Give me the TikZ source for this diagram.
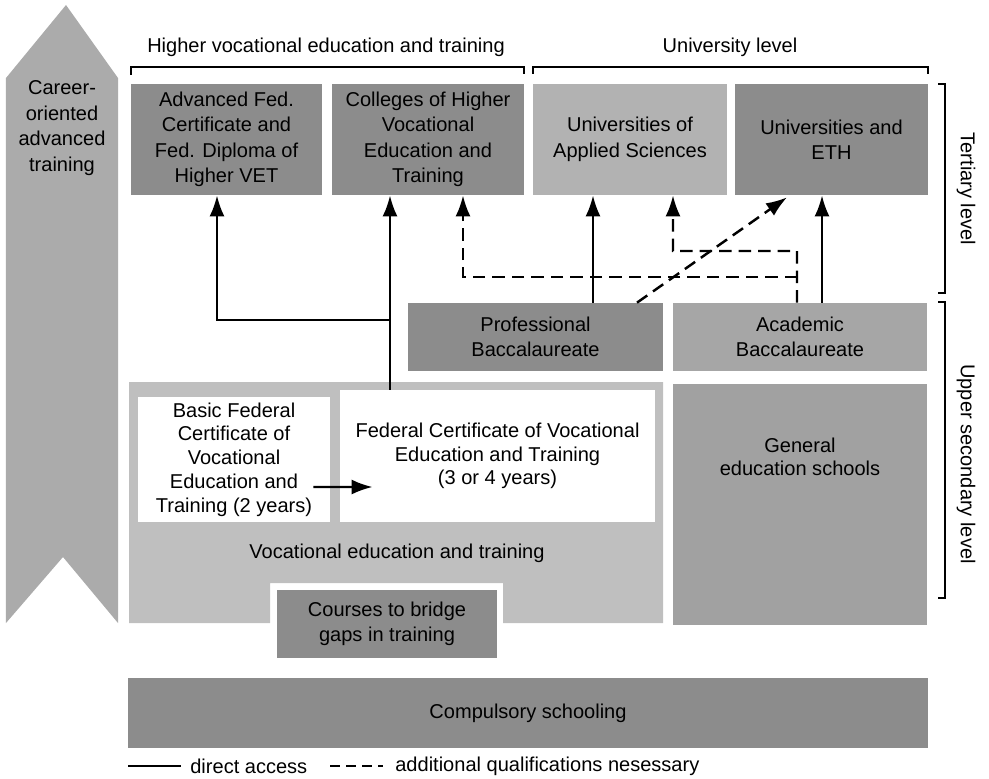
\documentclass[tikz,border=0pt]{standalone}
\usepackage{fontspec}
\setmainfont{Liberation Sans}
\usetikzlibrary{arrows.meta}

\begin{document}
\begin{tikzpicture}[
  font=\fontsize{11.4}{14.5}\selectfont,
  box/.style={inner sep=0pt, align=center},
  dark/.style={box, fill=black!45},
  light/.style={box, fill=black!30},
  white/.style={box, fill=white},
  arr/.style={-{Latex[length=0.42cm,width=0.3cm]}, line width=1.4pt},
  arrd/.style={arr, dash pattern=on 0.25cm off 0.14cm},
  brk/.style={line width=1.2pt}
]
\useasboundingbox (0,0) rectangle (19.78,-15.56);

% career arrow and vocational area
\fill[black!33] (1.32,-0.10) -- (2.36,-1.56) -- (2.36,-12.46) -- (1.26,-11.14) -- (0.12,-12.46) -- (0.12,-1.56) -- cycle;
\node[box] (career) at (1.24,-2.56) {Career-\\oriented\\advanced\\training};
\fill[black!25] (2.58,-7.64) -- (13.26,-7.64) -- (13.26,-12.46) -- (10.06,-12.46) -- (10.06,-11.66) -- (5.40,-11.66) -- (5.40,-12.46) -- (2.58,-12.46) -- cycle;

% headings
\node (hvet) at (6.52,-0.94) {Higher vocational education and training};
\node (unilevel) at (14.60,-0.94) {University level};
\draw[brk] (2.62,-1.50) -- (2.62,-1.34) -- (10.48,-1.34) -- (10.48,-1.48);
\draw[brk] (10.66,-1.48) -- (10.66,-1.34) -- (18.56,-1.34) -- (18.56,-1.48);

% tertiary level
\node[dark, minimum width=3.82cm, minimum height=2.22cm] (advfed) at (4.53,-2.79) {Advanced Fed.\\Certificate and\\Fed. Diploma of\\Higher VET};
\node[dark, minimum width=3.84cm, minimum height=2.22cm] (colleges) at (8.56,-2.79) {Colleges of Higher\\Vocational\\Education and\\Training};
\node[light, minimum width=3.88cm, minimum height=2.22cm] (uas) at (12.60,-2.79) {Universities of\\Applied Sciences};
\node[dark, minimum width=3.86cm, minimum height=2.22cm] (unieth) at (16.63,-2.79) {Universities and\\ETH};

% upper secondary level
\node[dark, minimum width=5.10cm, minimum height=1.36cm] (profbacc) at (10.71,-6.74) {Professional\\Baccalaureate};
\node[box, fill=black!35, minimum width=5.08cm, minimum height=1.36cm] (acadbacc) at (16.00,-6.74) {Academic\\Baccalaureate};
\node[white, minimum width=3.84cm, minimum height=2.50cm, font=\fontsize{11.4}{13.5}\selectfont] (basicfed) at (4.68,-9.19) {Basic Federal\\Certificate of\\Vocational\\Education and\\Training (2 years)};
\node[white, minimum width=6.30cm, minimum height=2.64cm, font=\fontsize{11.4}{13.5}\selectfont] (fedcert) at (9.95,-9.12) {Federal Certificate of Vocational\\Education and Training\\(3 or 4 years)};
\node (vetlabel) at (7.94,-11.06) {Vocational education and training};
\node[box, fill=black!37, minimum width=5.08cm, minimum height=4.82cm] (genedu) at (16.00,-10.09) {};
\node[box, font=\fontsize{11.4}{13}\selectfont] (genedutext) at (16.00,-9.14) {General\\education schools};
\node[dark, minimum width=4.40cm, minimum height=1.36cm] (courses) at (7.74,-12.48) {Courses to bridge\\gaps in training};
\node[dark, minimum width=16.0cm, minimum height=1.40cm] (compulsory) at (10.56,-14.26) {Compulsory schooling};

% level brackets
\draw[brk] (18.76,-1.68) -- (18.90,-1.68) -- (18.90,-5.86) -- (18.76,-5.86);
\node[rotate=-90] (tertiary) at (19.32,-3.78) {Tertiary level};
\draw[brk] (18.76,-6.04) -- (18.90,-6.04) -- (18.90,-11.96) -- (18.76,-11.96);
\node[rotate=-90] (uppersec) at (19.32,-9.28) {Upper secondary level};

% access paths
\coordinate (vt) at ([xshift=-0.76cm]colleges.south);
\coordinate (branch) at (7.80,-6.40);
\coordinate (dq1) at (15.94,-5.02);
\coordinate (dq2) at (15.94,-5.54);
\draw[arr] (vt |- fedcert.north) -- (vt);
\draw[arr] (branch) -| ([xshift=-0.19cm]advfed.south);
\draw[arr] ([xshift=-0.34cm,yshift=-0.55cm]basicfed.east) -- ([xshift=0.66cm,yshift=-0.62cm]fedcert.west);
\draw[arr] ([xshift=1.15cm]profbacc.north) -- ([xshift=1.15cm]profbacc.north |- uas.south);
\draw[arr] ([xshift=0.44cm]acadbacc.north) -- ([xshift=0.44cm]acadbacc.north |- unieth.south);
\draw[arrd] ([xshift=2.03cm]profbacc.north) -- ([xshift=-0.89cm,yshift=-0.04cm]unieth.south);
\draw[arrd] ([xshift=-0.06cm]acadbacc.north) -- (dq1) -| ([xshift=0.86cm]uas.south);
\draw[arrd] (dq2) -| ([xshift=0.70cm]colleges.south);

% legend
\coordinate (ls) at (2.56,-15.32);
\coordinate (ld) at (6.60,-15.32);
\node[box, anchor=west] (direct) at (3.80,-15.32) {direct access};
\node[box, anchor=west] (additional) at (7.90,-15.32) {additional qualifications nesessary};
\draw[brk] (ls) -- ([xshift=-0.18cm]direct.west);
\draw[brk, dash pattern=on 0.2cm off 0.12cm] (ld) -- ([xshift=-0.24cm]additional.west);
\end{tikzpicture}
\end{document}
